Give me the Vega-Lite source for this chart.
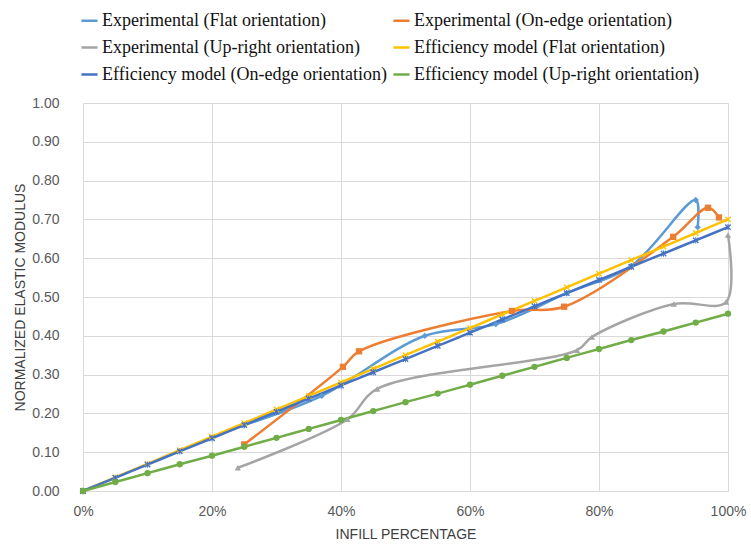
{
  "$schema": "https://vega.github.io/schema/vega-lite/v6.json",
  "width": 645,
  "height": 388,
  "autosize": {"type": "none"},
  "padding": {"left": 83, "top": 103, "right": 23, "bottom": 59},
  "background": "white",
  "config": {"view": {"stroke": null}, "font": "Liberation Sans"},
  "data": {
    "values": [
      {"s": "Experimental (Flat orientation)", "i": 1, "p": 25, "v": 0.17},
      {"s": "Experimental (Flat orientation)", "i": 2, "p": 37, "v": 0.245},
      {"s": "Experimental (Flat orientation)", "i": 3, "p": 53, "v": 0.40},
      {"s": "Experimental (Flat orientation)", "i": 4, "p": 64, "v": 0.43},
      {"s": "Experimental (Flat orientation)", "i": 5, "p": 75, "v": 0.51},
      {"s": "Experimental (Flat orientation)", "i": 6, "p": 85, "v": 0.58},
      {"s": "Experimental (Flat orientation)", "i": 7, "p": 95, "v": 0.75},
      {"s": "Experimental (Flat orientation)", "i": 8, "p": 95.3, "v": 0.68},

      {"s": "Experimental (On-edge orientation)", "i": 1, "p": 25, "v": 0.12},
      {"s": "Experimental (On-edge orientation)", "i": 2, "p": 40.3, "v": 0.32},
      {"s": "Experimental (On-edge orientation)", "i": 3, "p": 42.8, "v": 0.36},
      {"s": "Experimental (On-edge orientation)", "i": 4, "p": 66.5, "v": 0.464},
      {"s": "Experimental (On-edge orientation)", "i": 5, "p": 74.6, "v": 0.475},
      {"s": "Experimental (On-edge orientation)", "i": 6, "p": 91.5, "v": 0.655},
      {"s": "Experimental (On-edge orientation)", "i": 7, "p": 96.9, "v": 0.73},
      {"s": "Experimental (On-edge orientation)", "i": 8, "p": 98.6, "v": 0.705},

      {"s": "Experimental (Up-right orientation)", "i": 1, "p": 24, "v": 0.06},
      {"s": "Experimental (Up-right orientation)", "i": 2, "p": 41, "v": 0.185},
      {"s": "Experimental (Up-right orientation)", "i": 3, "p": 45.6, "v": 0.263},
      {"s": "Experimental (Up-right orientation)", "i": 4, "p": 76.6, "v": 0.363},
      {"s": "Experimental (Up-right orientation)", "i": 5, "p": 78.9, "v": 0.397},
      {"s": "Experimental (Up-right orientation)", "i": 6, "p": 91.6, "v": 0.482},
      {"s": "Experimental (Up-right orientation)", "i": 7, "p": 99.7, "v": 0.487},
      {"s": "Experimental (Up-right orientation)", "i": 8, "p": 100, "v": 0.66},

      {"s": "Efficiency model (Flat orientation)", "i": 1, "p": 0, "v": 0},
      {"s": "Efficiency model (Flat orientation)", "i": 2, "p": 5, "v": 0.035},
      {"s": "Efficiency model (Flat orientation)", "i": 3, "p": 10, "v": 0.07},
      {"s": "Efficiency model (Flat orientation)", "i": 4, "p": 15, "v": 0.105},
      {"s": "Efficiency model (Flat orientation)", "i": 5, "p": 20, "v": 0.14},
      {"s": "Efficiency model (Flat orientation)", "i": 6, "p": 25, "v": 0.175},
      {"s": "Efficiency model (Flat orientation)", "i": 7, "p": 30, "v": 0.21},
      {"s": "Efficiency model (Flat orientation)", "i": 8, "p": 35, "v": 0.245},
      {"s": "Efficiency model (Flat orientation)", "i": 9, "p": 40, "v": 0.28},
      {"s": "Efficiency model (Flat orientation)", "i": 10, "p": 45, "v": 0.315},
      {"s": "Efficiency model (Flat orientation)", "i": 11, "p": 50, "v": 0.35},
      {"s": "Efficiency model (Flat orientation)", "i": 12, "p": 55, "v": 0.385},
      {"s": "Efficiency model (Flat orientation)", "i": 13, "p": 60, "v": 0.42},
      {"s": "Efficiency model (Flat orientation)", "i": 14, "p": 65, "v": 0.455},
      {"s": "Efficiency model (Flat orientation)", "i": 15, "p": 70, "v": 0.49},
      {"s": "Efficiency model (Flat orientation)", "i": 16, "p": 75, "v": 0.525},
      {"s": "Efficiency model (Flat orientation)", "i": 17, "p": 80, "v": 0.56},
      {"s": "Efficiency model (Flat orientation)", "i": 18, "p": 85, "v": 0.595},
      {"s": "Efficiency model (Flat orientation)", "i": 19, "p": 90, "v": 0.63},
      {"s": "Efficiency model (Flat orientation)", "i": 20, "p": 95, "v": 0.665},
      {"s": "Efficiency model (Flat orientation)", "i": 21, "p": 100, "v": 0.70},

      {"s": "Efficiency model (On-edge orientation)", "i": 1, "p": 0, "v": 0},
      {"s": "Efficiency model (On-edge orientation)", "i": 2, "p": 5, "v": 0.034},
      {"s": "Efficiency model (On-edge orientation)", "i": 3, "p": 10, "v": 0.068},
      {"s": "Efficiency model (On-edge orientation)", "i": 4, "p": 15, "v": 0.102},
      {"s": "Efficiency model (On-edge orientation)", "i": 5, "p": 20, "v": 0.136},
      {"s": "Efficiency model (On-edge orientation)", "i": 6, "p": 25, "v": 0.17},
      {"s": "Efficiency model (On-edge orientation)", "i": 7, "p": 30, "v": 0.204},
      {"s": "Efficiency model (On-edge orientation)", "i": 8, "p": 35, "v": 0.238},
      {"s": "Efficiency model (On-edge orientation)", "i": 9, "p": 40, "v": 0.272},
      {"s": "Efficiency model (On-edge orientation)", "i": 10, "p": 45, "v": 0.306},
      {"s": "Efficiency model (On-edge orientation)", "i": 11, "p": 50, "v": 0.34},
      {"s": "Efficiency model (On-edge orientation)", "i": 12, "p": 55, "v": 0.374},
      {"s": "Efficiency model (On-edge orientation)", "i": 13, "p": 60, "v": 0.408},
      {"s": "Efficiency model (On-edge orientation)", "i": 14, "p": 65, "v": 0.442},
      {"s": "Efficiency model (On-edge orientation)", "i": 15, "p": 70, "v": 0.476},
      {"s": "Efficiency model (On-edge orientation)", "i": 16, "p": 75, "v": 0.51},
      {"s": "Efficiency model (On-edge orientation)", "i": 17, "p": 80, "v": 0.544},
      {"s": "Efficiency model (On-edge orientation)", "i": 18, "p": 85, "v": 0.578},
      {"s": "Efficiency model (On-edge orientation)", "i": 19, "p": 90, "v": 0.612},
      {"s": "Efficiency model (On-edge orientation)", "i": 20, "p": 95, "v": 0.646},
      {"s": "Efficiency model (On-edge orientation)", "i": 21, "p": 100, "v": 0.68},

      {"s": "Efficiency model (Up-right orientation)", "i": 1, "p": 0, "v": 0},
      {"s": "Efficiency model (Up-right orientation)", "i": 2, "p": 5, "v": 0.023},
      {"s": "Efficiency model (Up-right orientation)", "i": 3, "p": 10, "v": 0.046},
      {"s": "Efficiency model (Up-right orientation)", "i": 4, "p": 15, "v": 0.069},
      {"s": "Efficiency model (Up-right orientation)", "i": 5, "p": 20, "v": 0.091},
      {"s": "Efficiency model (Up-right orientation)", "i": 6, "p": 25, "v": 0.114},
      {"s": "Efficiency model (Up-right orientation)", "i": 7, "p": 30, "v": 0.137},
      {"s": "Efficiency model (Up-right orientation)", "i": 8, "p": 35, "v": 0.16},
      {"s": "Efficiency model (Up-right orientation)", "i": 9, "p": 40, "v": 0.183},
      {"s": "Efficiency model (Up-right orientation)", "i": 10, "p": 45, "v": 0.206},
      {"s": "Efficiency model (Up-right orientation)", "i": 11, "p": 50, "v": 0.229},
      {"s": "Efficiency model (Up-right orientation)", "i": 12, "p": 55, "v": 0.251},
      {"s": "Efficiency model (Up-right orientation)", "i": 13, "p": 60, "v": 0.274},
      {"s": "Efficiency model (Up-right orientation)", "i": 14, "p": 65, "v": 0.297},
      {"s": "Efficiency model (Up-right orientation)", "i": 15, "p": 70, "v": 0.32},
      {"s": "Efficiency model (Up-right orientation)", "i": 16, "p": 75, "v": 0.343},
      {"s": "Efficiency model (Up-right orientation)", "i": 17, "p": 80, "v": 0.366},
      {"s": "Efficiency model (Up-right orientation)", "i": 18, "p": 85, "v": 0.389},
      {"s": "Efficiency model (Up-right orientation)", "i": 19, "p": 90, "v": 0.411},
      {"s": "Efficiency model (Up-right orientation)", "i": 20, "p": 95, "v": 0.434},
      {"s": "Efficiency model (Up-right orientation)", "i": 21, "p": 100, "v": 0.457}
    ]
  },
  "encoding": {
    "x": {
      "field": "p", "type": "quantitative",
      "scale": {"domain": [0, 100], "nice": false},
      "axis": {
        "values": [0, 20, 40, 60, 80, 100],
        "labelExpr": "datum.value + '%'",
        "labelFlush": false,
        "title": "INFILL PERCENTAGE",
        "grid": true, "gridColor": "#d9d9d9", "gridWidth": 1,
        "domain": false, "ticks": false,
        "labelPadding": 13, "labelFontSize": 14, "labelColor": "#595959",
        "titleFontSize": 14, "titleFontWeight": "normal", "titleColor": "#404040",
        "titlePadding": 9
      }
    },
    "y": {
      "field": "v", "type": "quantitative",
      "scale": {"domain": [0, 1], "nice": false},
      "axis": {
        "values": [0, 0.1, 0.2, 0.3, 0.4, 0.5, 0.6, 0.7, 0.8, 0.9, 1.0],
        "format": ".2f",
        "labelFlush": false,
        "title": "NORMALIZED ELASTIC MODULUS",
        "grid": true, "gridColor": "#d9d9d9", "gridWidth": 1,
        "domain": false, "ticks": false,
        "labelPadding": 24, "labelFontSize": 14, "labelColor": "#595959",
        "titleFontSize": 14, "titleFontWeight": "normal", "titleColor": "#404040",
        "titlePadding": 4
      }
    },
    "order": {"field": "i", "type": "quantitative"}
  },
  "resolve": {"legend": {"color": "independent", "shape": "independent"}},
  "layer": [
    {
      "mark": {"type": "line", "interpolate": "catmull-rom", "strokeWidth": 2.5},
      "encoding": {
        "color": {
          "field": "s", "type": "nominal",
          "scale": {
            "domain": [
              "Experimental (Flat orientation)",
              "Experimental (On-edge orientation)",
              "Experimental (Up-right orientation)",
              "Efficiency model (Flat orientation)",
              "Efficiency model (On-edge orientation)",
              "Efficiency model (Up-right orientation)"
            ],
            "range": ["#5B9BD5", "#ED7D31", "#A5A5A5", "#FFC000", "#4472C4", "#70AD47"]
          },
          "legend": {
            "orient": "none", "legendX": -3, "legendY": -92,
            "direction": "horizontal", "columns": 2, "title": null,
            "symbolType": "stroke", "symbolSize": 260, "symbolStrokeWidth": 2.5,
            "labelFont": "Liberation Serif", "labelFontSize": 18, "labelColor": "#111111",
            "rowPadding": 8, "columnPadding": 0, "labelOffset": 3, "labelLimit": 400
          }
        }
      }
    },
    {
      "mark": {"type": "point", "filled": true, "size": 40, "opacity": 1},
      "encoding": {
        "color": {
          "field": "s", "type": "nominal",
          "scale": {
            "domain": [
              "Experimental (Flat orientation)",
              "Experimental (On-edge orientation)",
              "Experimental (Up-right orientation)",
              "Efficiency model (Flat orientation)",
              "Efficiency model (On-edge orientation)",
              "Efficiency model (Up-right orientation)"
            ],
            "range": ["#5B9BD5", "#ED7D31", "#A5A5A5", "#FFC000", "#4472C4", "#70AD47"]
          },
          "legend": null
        },
        "shape": {
          "field": "s", "type": "nominal",
          "scale": {
            "domain": [
              "Experimental (Flat orientation)",
              "Experimental (On-edge orientation)",
              "Experimental (Up-right orientation)",
              "Efficiency model (Flat orientation)",
              "Efficiency model (On-edge orientation)",
              "Efficiency model (Up-right orientation)"
            ],
            "range": [
              "diamond",
              "square",
              "triangle-up",
              "M-1,-0.7L-0.7,-1L0,-0.3L0.7,-1L1,-0.7L0.3,0L1,0.7L0.7,1L0,0.3L-0.7,1L-1,0.7L-0.3,0Z",
              "M-1,-0.7L-0.7,-1L0,-0.3L0.7,-1L1,-0.7L0.3,0L1,0.7L0.7,1L0,0.3L-0.7,1L-1,0.7L-0.3,0ZM-0.15,-1L0.15,-1L0.15,1L-0.15,1Z",
              "circle"
            ]
          },
          "legend": null
        }
      }
    }
  ]
}
